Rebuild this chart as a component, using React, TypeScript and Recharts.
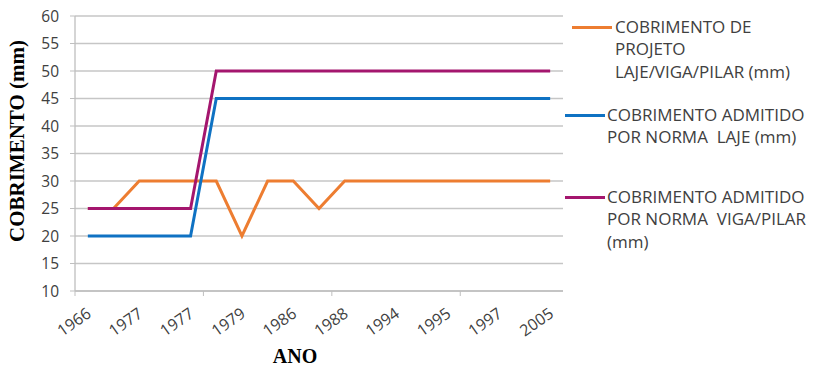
import React from "react";
import { LineChart, Line, XAxis, YAxis, CartesianGrid, Legend } from "recharts";

const categories = ["1966", "", "1977", "", "1977", "", "1979", "", "1986", "", "1988", "", "1994", "", "1995", "", "1997", "", "2005"];
const projeto = [25, 25, 30, 30, 30, 30, 20, 30, 30, 25, 30, 30, 30, 30, 30, 30, 30, 30, 30];
const normaLaje = [20, 20, 20, 20, 20, 45, 45, 45, 45, 45, 45, 45, 45, 45, 45, 45, 45, 45, 45];
const normaVigaPilar = [25, 25, 25, 25, 25, 50, 50, 50, 50, 50, 50, 50, 50, 50, 50, 50, 50, 50, 50];
const yTicks = [10, 15, 20, 25, 30, 35, 40, 45, 50, 55, 60];

const seriesNames = [
  "COBRIMENTO DE PROJETO LAJE/VIGA/PILAR (mm)",
  "COBRIMENTO ADMITIDO POR NORMA  LAJE (mm)",
  "COBRIMENTO ADMITIDO POR NORMA  VIGA/PILAR (mm)",
];
const legendLines = [
  ["COBRIMENTO DE", "PROJETO", "LAJE/VIGA/PILAR (mm)"],
  ["COBRIMENTO ADMITIDO", "POR NORMA\u00a0 LAJE (mm)"],
  ["COBRIMENTO ADMITIDO", "POR NORMA\u00a0 VIGA/PILAR", "(mm)"],
];
const colors = ["#ED7D31", "#0F72C3", "#A4166E"];

const data = categories.map((c, i) => ({
  cat: c,
  projeto: projeto[i],
  laje: normaLaje[i],
  viga: normaVigaPilar[i],
}));

const FONT = "'Open Sans', sans-serif";
const TEXT = "#404040";
const PLOT_W = 488;
const HALF_BAND = PLOT_W / categories.length / 2;

const XTick = (props: any) => {
  const { x, y, payload, index } = props;
  const px = x + 4.5;
  const py = y + 25;
  return (
    <g>
      {index % 5 === 0 && (
        <line x1={x - HALF_BAND} x2={x - HALF_BAND} y1={y} y2={y + 5} stroke="#BFBFBF" strokeWidth={1} />
      )}
      {payload.value !== "" && (
        <text
          x={px}
          y={py}
          textAnchor="end"
          transform={`rotate(-35, ${px}, ${py})`}
          fontFamily={FONT}
          fontSize={16}
          fill={TEXT}
        >
          {payload.value}
        </text>
      )}
    </g>
  );
};

const legendPos = [
  { lx1: 572, lx2: 612, ly: 27, tx: 615 },
  { lx1: 565, lx2: 605, ly: 115, tx: 607 },
  { lx1: 565, lx2: 605, ly: 197, tx: 607 },
];

const renderLegend = () => (
  <div style={{ position: "relative", width: 0, height: 0 }}>
    {legendLines.map((lines, i) => {
      const p = legendPos[i];
      return (
        <div key={i}>
          <div
            style={{
              position: "absolute",
              left: p.lx1,
              top: p.ly - 1.5,
              width: p.lx2 - p.lx1,
              height: 3,
              background: colors[i],
            }}
          />
          <div
            style={{
              position: "absolute",
              left: p.tx,
              top: p.ly - 11.5,
              whiteSpace: "nowrap",
              fontFamily: FONT,
              fontSize: 17,
              lineHeight: "22.5px",
              color: TEXT,
              textAlign: "left",
            }}
          >
            {lines.map((l, j) => (
              <div key={j}>{l}</div>
            ))}
          </div>
        </div>
      );
    })}
  </div>
);

export default function App() {
  return (
    <div style={{ position: "absolute", left: 0, top: 0, width: 819, height: 370, background: "#fff" }}>
      <LineChart
        width={819}
        height={370}
        data={data}
        margin={{ top: 16, right: 256, bottom: 0, left: 0 }}
      >
        <CartesianGrid vertical={false} stroke="#C6C6C6" strokeWidth={1.3} />
        <XAxis
          dataKey="cat"
          interval={0}
          height={79}
          padding={{ left: HALF_BAND, right: HALF_BAND }}
          tickLine={false}
          tickSize={0}
          tickMargin={0}
          axisLine={{ stroke: "#BFBFBF", strokeWidth: 1.3 }}
          tick={<XTick />}
          label={{
            content: () => (
              <text
                x={295}
                y={356}
                textAnchor="middle"
                dominantBaseline="central"
                fontFamily="'Liberation Serif', serif"
                fontWeight="bold"
                fontSize={20}
                fill="#000"
              >
                ANO
              </text>
            ),
          }}
        />
        <YAxis
          width={75}
          domain={[10, 60]}
          ticks={yTicks}
          interval={0}
          tickSize={5}
          tickMargin={11}
          tickLine={{ stroke: "#BFBFBF" }}
          axisLine={{ stroke: "#BFBFBF", strokeWidth: 1.3 }}
          tick={{ fontFamily: FONT, fontSize: 15.5, fill: TEXT }}
          label={{
            content: () => (
              <text
                x={17}
                y={141}
                transform="rotate(-90, 17, 141)"
                textAnchor="middle"
                dominantBaseline="central"
                fontFamily="'Liberation Serif', serif"
                fontWeight="bold"
                fontSize={21}
                fill="#000"
              >
                COBRIMENTO (mm)
              </text>
            ),
          }}
        />
        <Legend
          content={renderLegend}
          wrapperStyle={{ left: 0, top: 0, width: 0, height: 0, overflow: "visible" }}
        />
        <Line
          type="linear"
          dataKey="projeto"
          name={seriesNames[0]}
          stroke={colors[0]}
          strokeWidth={3}
          dot={false}
          isAnimationActive={false}
        />
        <Line
          type="linear"
          dataKey="laje"
          name={seriesNames[1]}
          stroke={colors[1]}
          strokeWidth={3}
          dot={false}
          isAnimationActive={false}
        />
        <Line
          type="linear"
          dataKey="viga"
          name={seriesNames[2]}
          stroke={colors[2]}
          strokeWidth={3}
          dot={false}
          isAnimationActive={false}
        />
      </LineChart>
    </div>
  );
}
